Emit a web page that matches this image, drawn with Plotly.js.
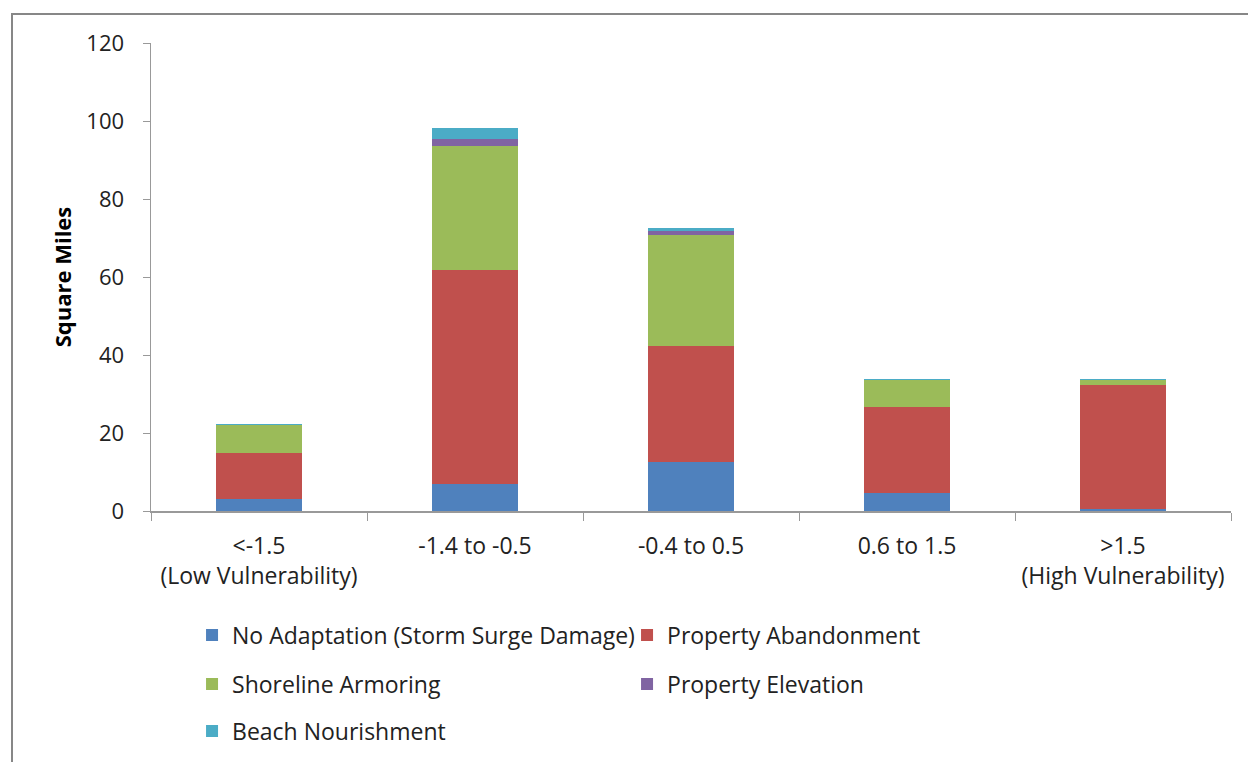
<!DOCTYPE html>
<html>
<head>
<meta charset="utf-8">
<script src="https://cdn.plot.ly/plotly-3.0.1.min.js"></script>
<style>
html,body{margin:0;padding:0;background:#fff;}
#chart{width:1248px;height:762px;}
</style>
</head>
<body>
<div id="chart"></div>
<script>
const categories = ["<-1.5<br>(Low Vulnerability)", "-1.4 to -0.5", "-0.4 to 0.5", "0.6 to 1.5", ">1.5<br>(High Vulnerability)"];
const noAdaptation = [3.0, 7.0, 12.6, 4.6, 0.4];
const propertyAbandonment = [11.8, 54.8, 29.8, 22.0, 32.0];
const shorelineArmoring = [7.2, 31.9, 28.4, 6.9, 1.1];
const propertyElevation = [0.1, 1.6, 1.1, 0.1, 0.1];
const beachNourishment = [0.2, 3.0, 0.7, 0.3, 0.3];
const seriesNames = ["No Adaptation (Storm Surge Damage)", "Property Abandonment", "Shoreline Armoring", "Property Elevation", "Beach Nourishment"];
const yTicks = [0, 20, 40, 60, 80, 100, 120];

const colors = ["#4F81BD", "#C0504D", "#9BBB59", "#8064A2", "#4BACC6"];
const legends = ["legend", "legend", "legend2", "legend2", "legend3"];
const values = [noAdaptation, propertyAbandonment, shorelineArmoring, propertyElevation, beachNourishment];

const FONT = "Open Sans, Noto Sans, sans-serif";

const traces = values.map((v, i) => ({
  type: "bar",
  name: seriesNames[i],
  x: categories,
  y: v,
  marker: {color: colors[i], line: {width: 0}},
  legend: legends[i],
  hoverinfo: "x+y+name"
}));

const legendCommon = {
  orientation: "h",
  x: 0.038,
  xanchor: "left",
  yanchor: "middle",
  entrywidth: 390,
  font: {family: FONT, size: 23, color: "#222"},
  bgcolor: "rgba(0,0,0,0)",
  traceorder: "normal"
};

const layout = {
  width: 1248,
  height: 762,
  margin: {l: 151, r: 17, t: 43, b: 251, autoexpand: false},
  paper_bgcolor: "#fff",
  plot_bgcolor: "#fff",
  barmode: "stack",
  bargap: 0.6,
  font: {family: FONT, size: 22, color: "#222"},
  xaxis: {
    type: "category",
    tickson: "boundaries",
    ticks: "outside",
    ticklen: 8,
    tickcolor: "#999",
    showline: true,
    linecolor: "#999",
    linewidth: 1.5,
    showgrid: false,
    automargin: false,
    tickfont: {family: FONT, size: 23, color: "#222"},
    ticklabelstandoff: 14
  },
  yaxis: {
    range: [0, 120],
    tickvals: yTicks,
    ticktext: yTicks.map(String),
    ticks: "outside",
    ticklen: 7,
    tickcolor: "#999",
    showline: true,
    linecolor: "#999",
    linewidth: 1.5,
    showgrid: false,
    zeroline: false,
    automargin: false,
    tickfont: {family: FONT, size: 22, color: "#222"},
    ticklabelstandoff: 14,
    title: {text: "<b>Square Miles</b>", font: {family: FONT, size: 22, color: "#000"}, standoff: 8}
  },
  legend: Object.assign({}, legendCommon, {y: -0.265}),
  legend2: Object.assign({}, legendCommon, {y: -0.37}),
  legend3: Object.assign({}, legendCommon, {y: -0.47}),
  shapes: [{
    type: "rect", xref: "paper", yref: "paper",
    x0: (12 - 151) / 1080, x1: (1252 - 151) / 1080,
    y0: (511 - 766) / 468, y1: (511 - 14) / 468,
    line: {color: "#878787", width: 2}, fillcolor: "rgba(0,0,0,0)", layer: "below"
  }]
};

Plotly.newPlot("chart", traces, layout, {displayModeBar: false, staticPlot: true});
</script>
</body>
</html>
